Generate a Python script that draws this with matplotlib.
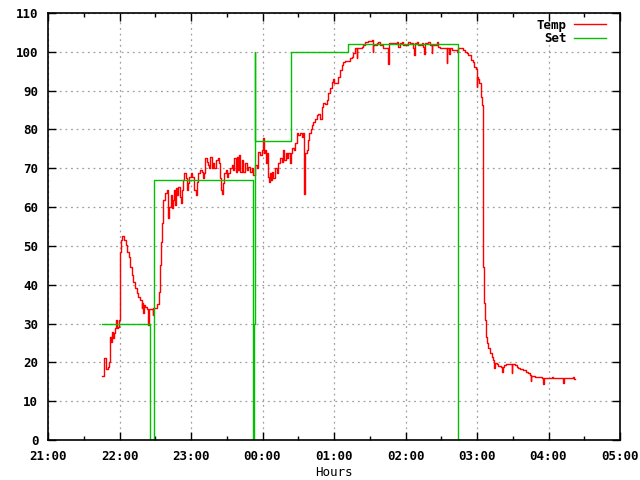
import matplotlib
matplotlib.use("Agg")
import matplotlib.pyplot as plt

# Temp readings: minutes after 21:00, degrees
temp_min = [45.6, 47.0, 48.4, 50.1, 51.2, 51.8, 52.6, 53.5, 54.8, 55.4, 56.2, 57.1, 57.9, 59.0, 59.6,
            60.2, 61.0, 62.4, 64.0, 65.5, 66.5, 68.0, 69.1, 70.2, 71.6, 73.0, 74.4, 75.8, 77.2, 78.6,
            79.0, 80.0, 80.4, 81.4, 82.8, 84.2, 84.6, 85.6, 87.9, 88.3, 89.8, 91.7, 93.1, 94.0, 94.8,
            95.9, 96.8, 98.2, 99.6, 100.1, 101.0, 101.8, 103.0, 103.8, 104.6, 105.7, 106.6, 107.4, 108.5,
            109.3, 110.8, 111.6, 112.7, 113.5, 114.4, 115.8, 116.9, 117.7, 118.6, 119.7, 121.1, 122.8,
            123.9, 124.8, 126.1, 127.6, 129.0, 129.8, 130.9, 132.0, 133.7, 134.5, 135.4, 135.9, 137.4,
            138.7, 139.6, 140.7, 142.4, 143.5, 144.3, 145.2, 146.3, 147.1, 147.9, 149.1, 150.0, 151.3,
            152.7, 154.2, 155.5, 156.3, 157.5, 158.4, 159.2, 160.3, 161.1, 162.5, 163.9, 165.3, 166.7,
            168.1, 169.5, 170.9, 172.3, 173.7, 175.1, 176.5, 177.9, 179.3, 180.2, 181.3, 182.1, 182.9,
            183.8, 184.4, 185.5, 186.3, 187.1, 188.2, 189.1, 190.5, 191.9, 193.3, 194.7, 196.1, 197.5,
            198.3, 199.5, 200.6, 201.7, 203.1, 203.9, 205.0, 206.2, 207.3, 208.7, 210.0, 211.5, 212.9,
            214.2, 215.1, 215.7, 217.1, 217.9, 219.0, 220.7, 221.8, 222.6, 224.1, 225.5, 226.8, 228.3,
            229.7, 231.0, 232.4, 233.9, 235.2, 236.6, 238.1, 238.9, 240.0, 242.3, 243.6, 245.0, 246.5,
            247.8, 249.2, 252.0, 253.4, 254.9, 256.2, 257.6, 259.1, 259.5, 263.3, 264.6, 266.0, 268.8,
            271.6, 272.5, 272.9, 275.8, 277.2, 278.6, 281.4, 285.6, 286.0, 288.4, 291.2, 292.6, 293.5,
            295.4, 296.8, 298.2, 302.4, 303.8, 306.6, 307.4, 308.0, 309.4, 310.7, 313.6, 314.9, 315.8,
            316.4, 319.1, 320.6, 322.0, 322.5, 326.2, 327.5, 329.0, 334.6, 335.0, 336.5, 337.0, 338.8,
            343.0, 344.3, 348.5, 349.9, 351.4, 352.7, 354.7, 356.4, 357.5, 359.2, 359.7, 360.1, 361.1,
            361.9, 363.1, 363.4, 363.9, 364.8, 365.3, 366.1, 366.7, 367.5, 368.6, 369.5, 370.9, 372.3,
            373.7, 374.5, 374.9, 376.5, 377.9, 379.9, 381.2, 381.6, 382.7, 384.1, 389.1, 389.5, 391.9,
            393.3, 394.6, 396.1, 398.9, 401.1, 403.1, 404.5, 404.9, 405.3, 408.7, 414.3, 415.6, 416.0,
            422.7, 424.0, 432.4, 432.8, 440.3, 441.0, 442.2]
temp_val = [16.5, 21.0, 18.3, 18.9, 20.2, 26.6, 25.3, 27.9, 26.3, 27.5, 28.8, 30.9, 28.8, 29.2, 30.9,
            48.5, 51.5, 52.5, 51.5, 50.2, 48.5, 47.2, 44.6, 42.5, 40.8, 39.1, 37.9, 36.9, 36.1, 34.0,
            35.2, 32.7, 34.8, 34.3, 33.7, 29.6, 33.7, 33.7, 32.2, 33.9, 33.9, 35.0, 38.2, 45.1, 51.1,
            55.8, 61.8, 63.7, 64.0, 64.4, 57.1, 60.1, 63.1, 59.7, 61.8, 64.4, 60.5, 64.8, 63.1,
            65.3, 62.7, 61.0, 64.4, 67.0, 68.9, 67.4, 64.4, 66.1, 67.8, 68.9, 67.8, 64.4,
            63.1, 66.5, 68.7, 69.5, 69.1, 67.4, 68.7, 72.6, 71.7, 70.8, 70.0, 73.0, 70.0,
            71.3, 70.0, 72.1, 72.6, 71.3, 67.4, 64.4, 63.5, 66.1, 68.7, 69.5, 67.8, 68.7,
            70.0, 70.8, 69.5, 72.6, 69.1, 73.0, 69.5, 73.4, 69.1, 72.1, 69.1, 71.3, 69.5,
            70.4, 69.1, 70.0, 68.3, 70.8, 70.0, 74.3, 73.4, 74.7, 77.7, 73.9, 74.7, 71.3,
            73.9, 67.8, 66.5, 68.7, 67.0, 69.1, 67.4, 70.0, 68.7, 71.3, 72.6, 71.7, 74.7,
            72.1, 73.9, 72.6, 73.9, 71.3, 73.9, 75.1, 74.7, 76.4, 79.0, 78.6, 79.0, 78.1,
            79.0, 63.5, 73.9, 74.7, 77.3, 79.0, 80.2, 81.1, 82.0, 82.8, 83.7, 84.1, 82.8,
            85.9, 86.9, 86.6, 87.6, 89.3, 90.6, 92.3, 92.9, 91.9, 91.9, 93.6, 95.3, 96.6,
            97.5, 97.7, 97.6, 98.3, 98.7, 99.6, 100.9, 98.3, 100.9, 101.3, 101.8, 102.6, 102.9,
            103.0, 100.0, 101.8, 102.2, 102.6, 101.8, 100.9, 96.8, 102.2, 102.4, 102.2, 102.6, 101.3,
            102.2, 102.6, 101.8, 102.6, 102.2, 100.9, 99.2, 102.2, 102.6, 101.8, 102.2, 101.3, 99.5,
            102.4, 102.6, 101.8, 99.6, 101.8, 102.6, 101.3, 100.9, 97.0, 100.9, 99.5, 100.9, 100.5,
            100.0, 100.9, 100.5, 100.0, 99.6, 99.2, 97.9, 97.5, 96.2, 95.7, 91.0, 93.6, 93.1,
            91.9, 89.7, 88.4, 86.3, 84.6, 44.6, 35.2, 30.9, 26.6, 24.9, 23.6, 22.3, 21.5,
            20.6, 18.5, 19.9, 19.5, 19.1, 18.9, 17.6, 18.9, 19.3, 19.6, 17.2, 19.7, 19.3,
            18.9, 18.6, 18.2, 18.0, 17.6, 17.2, 16.7, 15.3, 16.5, 16.3, 15.9, 14.3, 15.9,
            16.2, 15.9, 14.8, 15.9, 16.2, 15.7, 15.7]

# Set point: minutes after 21:00, degrees
set_min = [45.3, 86.0, 88.9, 172.0, 172.9, 173.5, 174.0, 203.7, 252.0, 344.3, 442.2]
set_val = [30, 0, 67, 0, 30, 100, 77, 100, 102, 0, 0]

hour_labels = ["21:00", "22:00", "23:00", "00:00", "01:00", "02:00", "03:00", "04:00", "05:00"]

plt.rcParams['font.family'] = 'DejaVu Sans Mono'
plt.rcParams['font.weight'] = 'bold'
plt.rcParams['font.size'] = 9

fig = plt.figure(figsize=(6.4, 4.8), dpi=100)
ax = fig.add_axes([48 / 640, 40 / 480, 572 / 640, 427 / 480])

ax.plot(temp_min, temp_val, color='#ff0000', lw=1.0, drawstyle='steps-post', label='Temp')
ax.plot(set_min, set_val, color='#00c000', lw=1.0, drawstyle='steps-post', label='Set')

ax.set_xlim(0, 480)
ax.set_ylim(0, 110)
ax.set_xticks([i * 60 for i in range(len(hour_labels))])
ax.set_xticklabels(hour_labels)
ax.set_xticks([30 + i * 60 for i in range(8)], minor=True)
ax.set_yticks(range(0, 111, 10))

ax.tick_params(which='both', direction='in', top=True, right=True, width=1)
ax.tick_params(which='major', length=6)
ax.tick_params(which='minor', length=3)
ax.tick_params(axis='x', pad=7)
ax.tick_params(axis='y', pad=7)

ax.grid(True, which='major', color='#a0a0a0', linestyle=(0, (1.5, 3.0)), lw=0.9)
for s in ax.spines.values():
    s.set_linewidth(1.2)

ax.set_xlabel('Hours')
ax.xaxis.set_label_coords(0.5, -0.062)

ax.legend(loc='upper right', bbox_to_anchor=(0.985, 0.998), frameon=False, markerfirst=False,
          handlelength=2.6, handletextpad=0.6, labelspacing=0.05, borderaxespad=0.0, fontsize=9)

fig.savefig('out.png', dpi=100)
